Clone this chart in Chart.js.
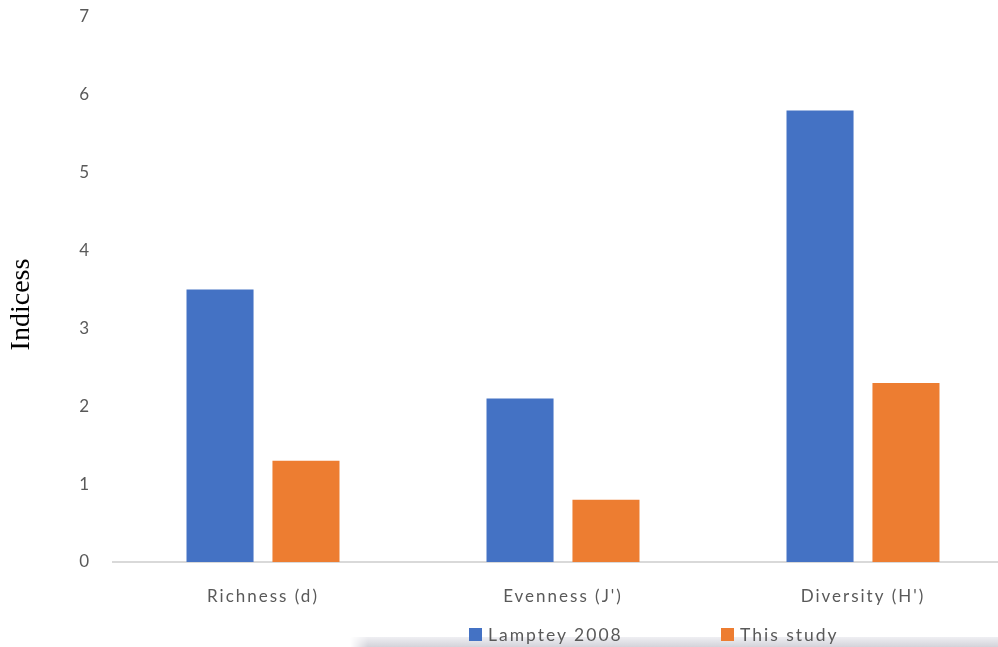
<!DOCTYPE html>
<html>
<head>
<meta charset="utf-8">
<title>Indices</title>
<script src="https://cdn.jsdelivr.net/npm/chart.js@4.4.1/dist/chart.umd.min.js"></script>
<style>
  html, body { margin: 0; padding: 0; background: #fff; overflow: hidden; }
  #wrap { position: absolute; left: 0; top: 0; width: 1013px; height: 647px; }
  #band {
    position: absolute; left: 350px; top: 637px; width: 648px; height: 10px;
    background: linear-gradient(to bottom, #efeff3, #d3d3da);
    -webkit-mask-image: linear-gradient(to right, transparent 0, #000 18px);
  }
  #legend {
    position: absolute; left: 469px; top: 624px; display: flex;
    font-family: Lato, "Open Sans", sans-serif; font-size: 17.5px; color: #595959; letter-spacing: 2px;
  }
  #legend .item { width: 252px; display: flex; align-items: center; }
  #legend .box { width: 13px; height: 13px; margin-right: 6px; }
</style>
</head>
<body>
<div id="band"></div>
<div id="wrap"><canvas id="myChart"></canvas></div>
<div id="legend"></div>
<script>
var categories = ["Richness (d)", "Evenness (J')", "Diversity (H')"];
var lampteyValues = [3.5, 2.1, 5.8];
var thisStudyValues = [1.3, 0.8, 2.3];
var seriesNames = ["Lamptey 2008", "This study"];
var barColors = ["#4472C4", "#ED7D31"];
var yTickMin = 0, yTickMax = 7, yTickStep = 1;

var tickFont = { family: "Lato, 'Open Sans', sans-serif", size: 17 };

// spaced-out lettering for the axis text
var spacing = {
    id: 'spacing',
    beforeUpdate: function (chart) { chart.ctx.letterSpacing = '2px'; },
    beforeDraw: function (chart) { chart.ctx.letterSpacing = '2px'; }
};

// rotated y axis title, drawn left of the tick labels
var yTitle = {
    id: 'yTitle',
    afterDraw: function (chart) {
        var ctx = chart.ctx;
        var area = chart.chartArea;
        ctx.save();
        ctx.letterSpacing = '0px';
        ctx.translate(22, (area.top + area.bottom) / 2 + 15);
        ctx.rotate(-Math.PI / 2);
        ctx.font = "28px 'Liberation Serif', 'Times New Roman', serif";
        ctx.fillStyle = "#000";
        ctx.textAlign = "center";
        ctx.textBaseline = "middle";
        ctx.fillText("Indicess", 0, 0);
        ctx.restore();
    }
};

var chart = new Chart("myChart", {
    type: "bar",
    data: {
        labels: categories,
        datasets: [{
            label: seriesNames[0],
            backgroundColor: barColors[0],
            data: lampteyValues
        }, {
            label: seriesNames[1],
            backgroundColor: barColors[1],
            data: thisStudyValues
        }]
    },
    options: {
        responsive: true,
        maintainAspectRatio: false,
        animation: false,
        categoryPercentage: 0.573,
        barPercentage: 0.78,
        layout: { padding: { top: 17, left: 0, right: 0, bottom: 0 } },
        plugins: {
            legend: { display: false },
            tooltip: { enabled: false }
        },
        scales: {
            x: {
                grid: { display: false, drawTicks: false },
                border: { display: true, color: "#d9d9d9", width: 2 },
                ticks: { color: "#595959", font: tickFont, padding: 24 },
                afterFit: function (scale) { scale.height = 85; }
            },
            y: {
                min: yTickMin,
                max: yTickMax,
                grid: { display: false, drawTicks: false },
                border: { display: false },
                ticks: { stepSize: yTickStep, color: "#595959", font: tickFont, padding: 22 },
                afterFit: function (scale) {
                    scale.width = 113;
                    scale.paddingTop = 0;
                    scale.paddingBottom = 0;
                }
            }
        }
    },
    plugins: [spacing, yTitle]
});

// legend built from the chart's datasets
var legend = document.getElementById("legend");
chart.data.datasets.forEach(function (ds) {
    var item = document.createElement("div");
    item.className = "item";
    var box = document.createElement("span");
    box.className = "box";
    box.style.background = ds.backgroundColor;
    var txt = document.createElement("span");
    txt.textContent = ds.label;
    item.appendChild(box);
    item.appendChild(txt);
    legend.appendChild(item);
});
</script>
</body>
</html>
